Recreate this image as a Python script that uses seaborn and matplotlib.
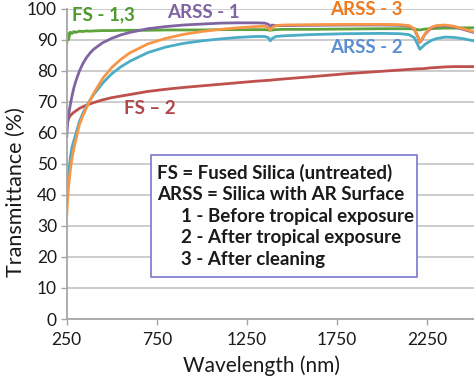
import numpy as np
import pandas as pd
import matplotlib
matplotlib.use("Agg")
import matplotlib.pyplot as plt
import seaborn as sns

# ---------------- data ----------------
wavelength = [250, 255, 260, 270, 280, 290, 300, 320, 340, 360, 380, 400, 450,
              500, 550, 600, 700, 800, 900, 1000, 1100, 1200, 1300, 1350, 1370,
              1380, 1390, 1410, 1450, 1600, 1800, 2000, 2100, 2150, 2180, 2200,
              2210, 2220, 2240, 2270, 2300, 2350, 2400, 2450, 2510]

fs_2 = [62.0, 63.5, 64.5, 65.5, 66.1, 66.6, 67.0, 67.8, 68.4, 68.9, 69.3, 69.7,
        70.6, 71.3, 71.8, 72.3, 73.3, 74.0, 74.6, 75.1, 75.6, 76.1, 76.6, 76.8,
        76.9, 76.9, 77.0, 77.1, 77.3, 78.0, 79.0, 79.8, 80.2, 80.4, 80.5, 80.6,
        80.6, 80.6, 80.7, 80.9, 81.0, 81.2, 81.3, 81.3, 81.3]

arss_2 = [37.0, 42.0, 46.5, 52.0, 55.5, 57.5, 59.5, 63.5, 66.3, 68.6, 70.5, 72.3,
          76.0, 79.0, 81.2, 83.0, 85.8, 87.6, 88.8, 89.6, 90.2, 90.7, 91.0, 91.0,
          90.6, 89.6, 90.3, 91.0, 91.2, 91.6, 91.9, 92.0, 91.9, 91.6, 90.6, 88.2,
          86.9, 87.4, 88.5, 89.6, 90.3, 90.8, 90.7, 90.3, 89.6]

fs_13 = [88.5, 92.0, 90.0, 92.4, 92.0, 92.6, 92.3, 92.7, 92.6, 92.8, 92.7, 92.8,
         92.9, 92.9, 93.0, 93.0, 93.0, 93.1, 93.1, 93.1, 93.2, 93.2, 93.2, 93.2,
         93.1, 93.0, 93.1, 93.2, 93.3, 93.3, 93.4, 93.5, 93.5, 93.5, 93.4, 93.2,
         93.1, 93.2, 93.4, 93.5, 93.6, 93.7, 93.7, 93.8, 93.8]

arss_1 = [58.5, 63.0, 65.5, 69.0, 72.0, 74.5, 76.5, 79.8, 82.3, 84.2, 85.7, 86.9,
          89.0, 90.4, 91.5, 92.3, 93.5, 94.2, 94.7, 95.0, 95.3, 95.4, 95.4, 95.3,
          94.9, 94.1, 94.7, 94.5, 94.5, 94.6, 94.7, 94.7, 94.6, 94.3, 93.3, 90.8,
          89.1, 89.8, 91.8, 93.6, 94.3, 94.5, 94.1, 93.3, 92.3]

arss_3 = [33.0, 38.5, 42.5, 48.0, 52.0, 55.0, 57.5, 62.5, 65.5, 68.0, 70.5, 72.7,
          77.5, 81.0, 83.6, 85.7, 88.6, 90.4, 91.7, 92.6, 93.3, 93.8, 94.2, 94.3,
          93.9, 93.1, 93.8, 94.5, 94.7, 94.8, 94.9, 94.9, 94.8, 94.5, 93.5, 91.0,
          89.3, 90.0, 92.0, 93.8, 94.5, 94.7, 94.3, 93.5, 92.5]

series_names = ["FS - 2", "ARSS - 2", "FS - 1,3", "ARSS - 1", "ARSS - 3"]
series_values = [fs_2, arss_2, fs_13, arss_1, arss_3]
series_colors = ["#c0504d", "#4bacc6", "#5ea43c", "#8064a2", "#f79646"]

x_ticks = [250, 750, 1250, 1750, 2250]
y_ticks = [0, 10, 20, 30, 40, 50, 60, 70, 80, 90, 100]

legend_lines = ["FS = Fused Silica (untreated)",
                "ARSS = Silica with AR Surface",
                "1 - Before tropical exposure",
                "2 - After tropical exposure",
                "3 - After cleaning"]

# ---------------- build long-form table ----------------
frames = []
for name, vals in zip(series_names, series_values):
    frames.append(pd.DataFrame({"Wavelength": wavelength, "T": vals, "Series": name}))
df = pd.concat(frames, ignore_index=True)

sns.set_theme(style="white")
plt.rcParams["font.family"] = ["Lato", "DejaVu Sans"]

fig = plt.figure(figsize=(4.74, 3.80), dpi=100)
ax = fig.add_axes([0.1407, 0.1605, 0.8593, 0.817])

sns.lineplot(data=df, x="Wavelength", y="T", hue="Series",
             hue_order=series_names, palette=series_colors,
             estimator=None, sort=False, linewidth=2.0, legend=False, ax=ax)

ax.set_xlim(250, 2511)
ax.set_ylim(0, 100)
ax.set_xticks(x_ticks)
ax.set_yticks(y_ticks)
ax.yaxis.grid(True, color="#c8c8c8", linewidth=1.3)
ax.xaxis.grid(False)
ax.set_axisbelow(True)
for s in ["top", "right"]:
    ax.spines[s].set_visible(False)
for s in ["left", "bottom"]:
    ax.spines[s].set_color("#a6a6a6")
    ax.spines[s].set_linewidth(1.3)
ax.tick_params(axis="both", which="both", length=4, width=1.0, color="#a6a6a6",
               labelsize=12.5, labelcolor="#1a1a1a", direction="out",
               bottom=True, left=True)
ax.tick_params(axis="x", pad=5)
ax.tick_params(axis="y", pad=3)
ax.set_xlabel("Wavelength (nm)", fontsize=15, color="#1a1a1a")
ax.set_ylabel("Transmittance (%)", fontsize=15.5, color="#1a1a1a")
ax.xaxis.set_label_coords(0.479, -0.118)
ax.yaxis.set_label_coords(-0.100, 0.41)

# curve labels
lab_kw = dict(fontsize=13.5, fontweight="bold", transform=ax.transData,
              va="center", ha="left")
ax.text(280, 98.0, "FS - 1,3", color="#4e9a2e", **lab_kw)
ax.text(805, 98.6, "ARSS - 1", color="#8064a2", **lab_kw)
ax.text(1710, 99.6, "ARSS - 3", color="#f07a1e", clip_on=False, **lab_kw)
ax.text(1710, 87.3, "ARSS - 2", color="#5b8fd0", **lab_kw)
ax.text(570, 67.9, "FS \u2013 2", color="#b0474a", **lab_kw)

# explanatory box
box = plt.Rectangle((151 / 474, 1 - 277 / 380), (417 - 151) / 474, (277 - 155) / 380,
                    transform=fig.transFigure, facecolor="white",
                    edgecolor="#7878d0", linewidth=1.2, zorder=5)
fig.patches.append(box)
ys = [172.5, 194.5, 216.5, 238.0, 260.0]
xs = [157, 157, 181, 181, 181]
for t, xx, yy in zip(legend_lines, xs, ys):
    fig.text(xx / 474, 1 - yy / 380, t, fontsize=13.5, fontweight="bold",
             color="#1a1a1a", va="center", ha="left", zorder=6)

fig.savefig("out.png", dpi=100)
